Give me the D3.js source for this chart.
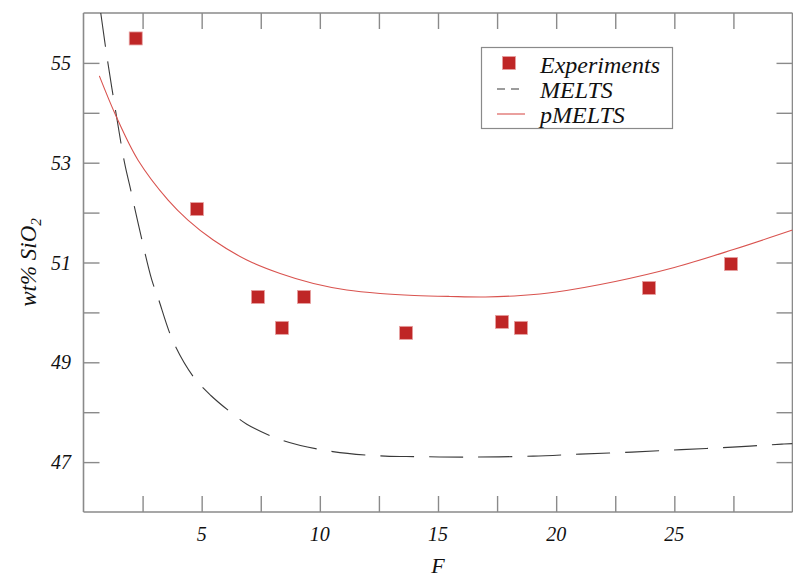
<!DOCTYPE html>
<html>
<head>
<meta charset="utf-8">
<script src="https://cdn.jsdelivr.net/npm/d3@7"></script>
<style>
  html, body { margin: 0; padding: 0; background: #fff; }
  svg { display: block; }
  text { font-family: "Liberation Serif", "Times New Roman", Times, serif; font-style: italic; fill: #111; }
</style>
</head>
<body>
<svg id="chart" width="793" height="579"></svg>
<script>
// Experimental melt compositions (melt fraction F vs. wt% SiO2)
const expF    = [2.21, 4.80, 7.38, 8.40, 9.33, 13.65, 17.71, 18.51, 23.93, 27.40];
const expSiO2 = [55.49, 52.07, 50.31, 49.69, 50.31, 49.59, 49.81, 49.69, 50.49, 50.97];

// MELTS model curve
const meltsF    = [0.73, 1.0, 1.4, 1.74, 2.0, 2.31, 2.89, 3.15, 3.8, 4.65, 5.4, 6.2, 6.91, 8.46, 10.55, 12.76, 14.1, 16.2, 19.03, 21.0, 23.2, 25.3, 27.46, 29.55, 30];
const meltsSiO2 = [56.0, 55.1, 53.92, 52.99, 52.45, 51.79, 50.65, 50.30, 49.41, 48.71, 48.33, 48.01, 47.76, 47.43, 47.21, 47.12, 47.11, 47.10, 47.12, 47.16, 47.20, 47.25, 47.30, 47.36, 47.37];

// pMELTS model curve
const pmeltsF    = [0.67, 1.39, 2.31, 3.58, 4.42, 5.49, 6.91, 8.32, 9.73, 11.14, 12.55, 14, 15.5, 17, 18.5, 20, 22.5, 25, 27.5, 30];
const pmeltsSiO2 = [54.74, 53.92, 53.05, 52.25, 51.85, 51.45, 51.05, 50.78, 50.58, 50.45, 50.38, 50.34, 50.32, 50.31, 50.34, 50.41, 50.62, 50.90, 51.26, 51.65];

// Axis ticks
const xMinorTicks = [2.5, 5, 7.5, 10, 12.5, 15, 17.5, 20, 22.5, 25, 27.5];
const xTickLabels = [5, 10, 15, 20, 25];
const yMinorTicks = [47, 48, 49, 50, 51, 52, 53, 54, 55];
const yTickLabels = [47, 49, 51, 53, 55];

const legendLabels = ["Experiments", "MELTS", "pMELTS"];

const svg = d3.select("#chart");
const L = 83.5, R = 792.5, T = 13, B = 512;

const x = d3.scaleLinear().domain([0, 30]).range([L, R]);
const y = d3.scaleLinear().domain([46, 56]).range([B, T]);

const axisColor = "#8a8a8a";
const TL = 16;

// clip region for curves
svg.append("defs").append("clipPath").attr("id", "plotClip")
  .append("rect").attr("x", L).attr("y", T).attr("width", R - L).attr("height", B - T);

// frame axes with inward ticks
const gB = svg.append("g").attr("transform", `translate(0,${B})`)
  .call(d3.axisBottom(x).tickValues(xMinorTicks).tickSize(-TL).tickFormat(""));
const gT = svg.append("g").attr("transform", `translate(0,${T})`)
  .call(d3.axisTop(x).tickValues(xMinorTicks).tickSize(-TL).tickFormat(""));
const gL = svg.append("g").attr("transform", `translate(${L},0)`)
  .call(d3.axisLeft(y).tickValues(yMinorTicks).tickSize(-TL).tickFormat(""));
const gR = svg.append("g").attr("transform", `translate(${R},0)`)
  .call(d3.axisRight(y).tickValues(yMinorTicks).tickSize(-TL).tickFormat(""));
[gB, gT, gL, gR].forEach(g => {
  g.select(".domain").attr("stroke", axisColor).attr("stroke-width", 1.6);
  g.selectAll(".tick line").attr("stroke", axisColor).attr("stroke-width", 1.4);
});
// closed frame: no outer tick stubs
[gB, gT].forEach(g => g.select(".domain").attr("d", `M${L},0H${R}`));
[gL, gR].forEach(g => g.select(".domain").attr("d", `M0,${T}V${B}`));

// tick labels
svg.append("g").selectAll("text").data(xTickLabels).join("text")
  .attr("x", d => x(d)).attr("y", 541)
  .attr("text-anchor", "middle").attr("font-size", 20)
  .text(d => d);
svg.append("g").selectAll("text").data(yTickLabels).join("text")
  .attr("x", 71).attr("y", d => y(d)).attr("dy", "0.35em")
  .attr("text-anchor", "end").attr("font-size", 20)
  .text(d => d);

// axis titles
svg.append("text").attr("x", x(15)).attr("y", 573)
  .attr("text-anchor", "middle").attr("font-size", 22).text("F");
const yt = svg.append("text")
  .attr("transform", `translate(36,${(T + B) / 2}) rotate(-90)`)
  .attr("text-anchor", "middle").attr("font-size", 23);
yt.append("tspan").text("wt% SiO");
yt.append("tspan").attr("font-size", 15).attr("dy", 5).text("2");

// curves
const line = d3.line().x(d => x(d[0])).y(d => y(d[1])).curve(d3.curveCatmullRom.alpha(0.5));
const meltsPts = meltsF.map((f, i) => [f, meltsSiO2[i]]);
const pmeltsPts = pmeltsF.map((f, i) => [f, pmeltsSiO2[i]]);

const curves = svg.append("g").attr("clip-path", "url(#plotClip)");
curves.append("path").datum(meltsPts).attr("d", line)
  .attr("fill", "none").attr("stroke", "#3a3a3a").attr("stroke-width", 1.1)
  .attr("stroke-dasharray", "34,15");
curves.append("path").datum(pmeltsPts).attr("d", line)
  .attr("fill", "none").attr("stroke", "#d9534f").attr("stroke-width", 1.1);

// experiment markers
const S = 13;
svg.append("g").selectAll("rect").data(expF.map((f, i) => [f, expSiO2[i]])).join("rect")
  .attr("x", d => x(d[0]) - S / 2).attr("y", d => y(d[1]) - S / 2)
  .attr("width", S).attr("height", S)
  .attr("fill", "#bf2626").attr("stroke", "#e6a0a0").attr("stroke-width", 0.8);

// legend
const lg = svg.append("g");
lg.append("rect").attr("x", 481.5).attr("y", 47.5).attr("width", 191).attr("height", 81)
  .attr("fill", "#fff").attr("stroke", axisColor).attr("stroke-width", 1.2);
lg.append("rect").attr("x", 509 - S / 2).attr("y", 63 - S / 2).attr("width", S).attr("height", S)
  .attr("fill", "#bf2626").attr("stroke", "#e6a0a0").attr("stroke-width", 0.8);
lg.append("line").attr("x1", 497).attr("x2", 524).attr("y1", 89).attr("y2", 89)
  .attr("stroke", "#3a3a3a").attr("stroke-width", 1.1).attr("stroke-dasharray", "8,6");
lg.append("line").attr("x1", 497).attr("x2", 525).attr("y1", 114).attr("y2", 114)
  .attr("stroke", "#d9534f").attr("stroke-width", 1.1);
lg.selectAll("text.lbl").data(legendLabels).join("text").attr("class", "lbl")
  .attr("x", 540).attr("y", (d, i) => 73 + i * 25)
  .attr("font-size", 24).text(d => d);
</script>
</body>
</html>
